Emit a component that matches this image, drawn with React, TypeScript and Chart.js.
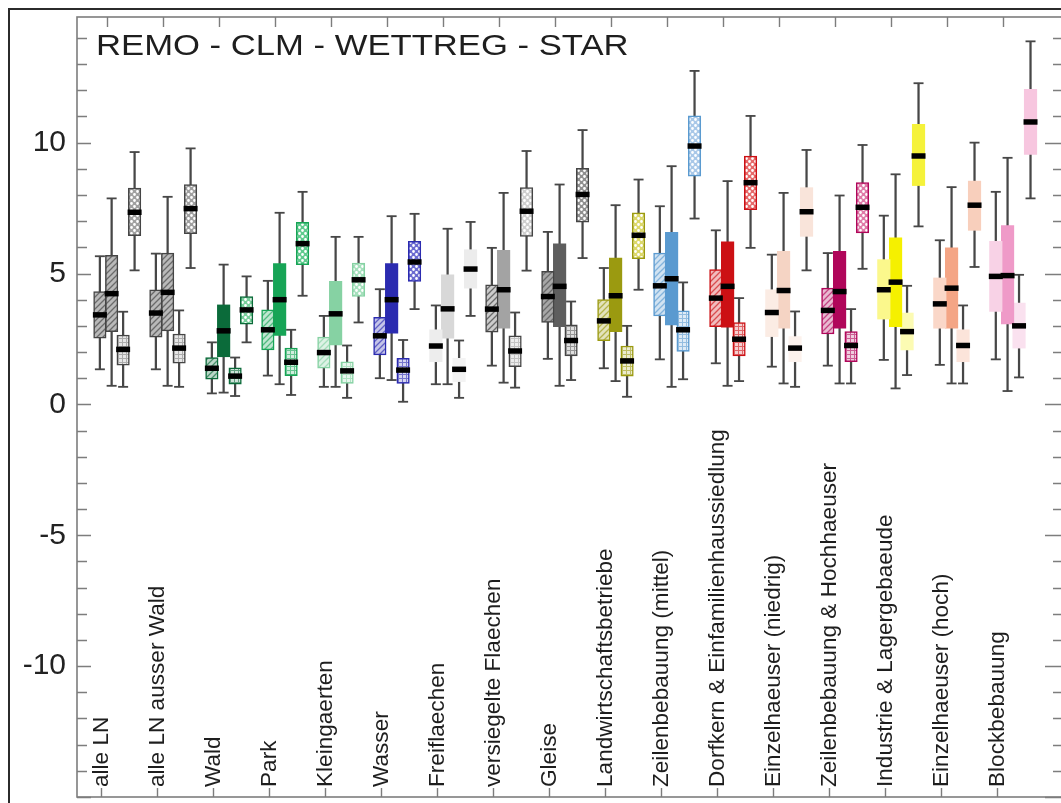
import React, { useEffect, useRef } from 'react';
import { Chart, registerables } from 'chart.js';

Chart.register(...registerables);

// ---------------- data ----------------
const title = 'REMO - CLM - WETTREG - STAR';

const categories = [
  'alle LN',
  'alle LN ausser Wald',
  'Wald',
  'Park',
  'Kleingaerten',
  'Wasser',
  'Freiflaechen',
  'versiegelte Flaechen',
  'Gleise',
  'Landwirtschaftsbetriebe',
  'Zeilenbebauung (mittel)',
  'Dorfkern & Einfamilienhaussiedlung',
  'Einzelhaeuser (niedrig)',
  'Zeilenbebauung & Hochhaeuser',
  'Industrie & Lagergebaeude',
  'Einzelhaeuser (hoch)',
  'Blockbebauung',
];

const models = ['REMO', 'CLM', 'WETTREG', 'STAR'];

const yLabelValues = [-10, -5, 0, 5, 10];

// [lower whisker, q1, median, q3, upper whisker]
const remoStats = [
  [1.34, 2.53, 3.42, 4.31, 5.66],
  [1.34, 2.57, 3.49, 4.38, 5.76],
  [0.42, 0.96, 1.38, 1.79, 2.37],
  [1.10, 2.08, 2.85, 3.61, 4.72],
  [0.67, 1.38, 1.98, 2.57, 3.38],
  [1.00, 1.89, 2.62, 3.33, 4.40],
  [0.77, 1.63, 2.23, 2.85, 3.78],
  [1.48, 2.76, 3.64, 4.57, 5.98],
  [1.74, 3.13, 4.12, 5.08, 6.59],
  [1.38, 2.43, 3.19, 4.00, 5.21],
  [1.72, 3.38, 4.53, 5.78, 7.57],
  [1.57, 2.97, 4.06, 5.15, 6.65],
  [1.44, 2.59, 3.51, 4.38, 5.72],
  [1.48, 2.69, 3.59, 4.44, 5.78],
  [1.70, 3.26, 4.38, 5.53, 7.21],
  [1.51, 2.91, 3.84, 4.83, 6.27],
  [1.72, 3.55, 4.89, 6.23, 8.12],
];

const clmStats = [
  [0.71, 2.78, 4.23, 5.69, 7.87],
  [0.71, 2.81, 4.28, 5.78, 7.93],
  [0.45, 1.82, 2.81, 3.80, 5.34],
  [0.77, 2.63, 4.00, 5.38, 7.32],
  [0.67, 2.27, 3.46, 4.70, 6.40],
  [0.93, 2.72, 4.00, 5.38, 7.19],
  [0.77, 2.53, 3.65, 4.95, 6.71],
  [0.83, 2.91, 4.38, 5.89, 8.08],
  [0.71, 2.97, 4.51, 6.13, 8.40],
  [0.89, 2.78, 4.15, 5.59, 7.61],
  [0.67, 3.04, 4.80, 6.57, 9.10],
  [0.71, 2.95, 4.51, 6.21, 8.53],
  [0.80, 2.91, 4.35, 5.85, 8.08],
  [0.80, 2.91, 4.31, 5.85, 7.98],
  [0.61, 2.97, 4.67, 6.36, 8.79],
  [0.80, 2.91, 4.44, 5.98, 8.30],
  [0.51, 3.07, 4.92, 6.83, 9.42],
];

const wettregStats = [
  [0.67, 1.50, 2.10, 2.65, 3.54],
  [0.67, 1.57, 2.15, 2.69, 3.59],
  [0.32, 0.77, 1.08, 1.40, 1.79],
  [0.36, 1.10, 1.61, 2.15, 2.85],
  [0.25, 0.80, 1.28, 1.63, 2.25],
  [0.10, 0.80, 1.31, 1.76, 2.46],
  [0.25, 0.87, 1.34, 1.76, 2.44],
  [0.64, 1.44, 2.04, 2.62, 3.51],
  [0.93, 1.85, 2.44, 3.04, 3.93],
  [0.29, 1.08, 1.66, 2.23, 3.00],
  [0.96, 2.02, 2.85, 3.57, 4.66],
  [0.89, 1.85, 2.49, 3.13, 4.06],
  [0.67, 1.63, 2.15, 2.59, 3.55],
  [0.80, 1.63, 2.25, 2.78, 3.64],
  [1.12, 2.08, 2.78, 3.49, 4.53],
  [0.80, 1.63, 2.25, 2.85, 3.78],
  [1.03, 2.15, 3.00, 3.87, 4.95],
];

const starStats = [
  [5.12, 6.45, 7.34, 8.26, 9.64],
  [5.21, 6.52, 7.48, 8.40, 9.78],
  [2.37, 3.06, 3.61, 4.12, 4.89],
  [4.15, 5.34, 6.14, 6.96, 8.12],
  [3.13, 4.12, 4.76, 5.40, 6.40],
  [3.64, 4.70, 5.44, 6.23, 7.28],
  [3.38, 4.44, 5.17, 5.91, 6.97],
  [5.11, 6.42, 7.38, 8.28, 9.68],
  [5.59, 6.96, 8.02, 9.02, 10.48],
  [4.38, 5.57, 6.46, 7.32, 8.59],
  [7.10, 8.72, 9.87, 11.02, 12.74],
  [5.98, 7.44, 8.47, 9.49, 11.02],
  [5.12, 6.42, 7.36, 8.28, 9.72],
  [5.18, 6.55, 7.53, 8.47, 9.91],
  [6.80, 8.36, 9.49, 10.70, 12.27],
  [5.25, 6.65, 7.61, 8.53, 10.00],
  [7.87, 9.55, 10.79, 12.04, 13.87],
];

const allStats = [remoStats, clmStats, wettregStats, starStats];

// ---------------- styles ----------------
const catBase = [
  '#808080', '#808080', '#0b6b3a', '#17a456', '#86d2a3', '#2b2bb0', '#d8d8d8',
  '#a3a3a3', '#5e5e5e', '#9b9a10', '#5a9ad0', '#cc1014', '#f5d4c4', '#b0065a',
  '#f5f000', '#f4a585', '#ef9ac8',
];
const catStar = [
  '#a0a0a0', '#a0a0a0', '#79cf9c', '#5fcb8e', '#a6e0bd', '#6b6bd0', '#ececec',
  '#cfcfcf', '#8f8f8f', '#dcd86a', '#a9c8e8', '#e66a6a', '#f9e4da', '#e07aa8',
  '#f5f23a', '#f8cfbc', '#f7c6df',
];
const softCats = [6, 12, 14, 15, 16];
const grayCats = [0, 1, 7, 8];
const hatchedClmCats = [0, 1];

const X_OFFSETS = [-0.02, 0.19, 0.395, 0.6];
const TOP_TICK_SHIFT = 0.1;
const FONT = '"Liberation Sans", Arial, Helvetica, sans-serif';

function mixWhite(hex: string, t: number) {
  const n = parseInt(hex.slice(1), 16);
  const r = (n >> 16) & 255, g = (n >> 8) & 255, b = n & 255;
  const f = (c: number) => Math.round(c + (255 - c) * t);
  return `rgb(${f(r)},${f(g)},${f(b)})`;
}

const decorPlugin = {
  id: 'decor',
  afterDatasetsDraw(chart: any) {
    const { ctx, chartArea: a, scales } = chart;
    const xs = scales.x, ys = scales.y;
    ctx.save();
    ctx.strokeStyle = '#7d7d7d';
    ctx.lineWidth = 1.6;
    ctx.strokeRect(a.left, a.top, a.right - a.left, a.bottom - a.top);
    ctx.lineWidth = 1.4;
    ctx.beginPath();
    for (let v = Math.ceil(ys.min); v <= Math.floor(ys.max); v++) {
      const y = Math.round(ys.getPixelForValue(v)) + 0.5;
      const major = v % 5 === 0;
      ctx.moveTo(a.left, y);
      ctx.lineTo(a.left + (major ? 14 : 10), y);
      ctx.moveTo(a.right, y);
      ctx.lineTo(a.right - (major ? 18 : 10), y);
    }
    categories.forEach((_, i) => {
      const xb = Math.round(xs.getPixelForValue(i)) + 0.5;
      ctx.moveTo(xb, a.bottom);
      ctx.lineTo(xb, a.bottom - 9);
      const xt = Math.round(xs.getPixelForValue(i + TOP_TICK_SHIFT)) + 0.5;
      ctx.moveTo(xt, a.top);
      ctx.lineTo(xt, a.top + 10);
    });
    ctx.stroke();

    ctx.fillStyle = '#1e1e1e';
    ctx.font = `22.6px ${FONT}`;
    ctx.textAlign = 'left';
    ctx.textBaseline = 'middle';
    categories.forEach((c, i) => {
      ctx.save();
      ctx.translate(xs.getPixelForValue(i), a.bottom - 10);
      ctx.rotate(-Math.PI / 2);
      ctx.fillText(c, 0, 1);
      ctx.restore();
    });

    ctx.save();
    ctx.font = `30px ${FONT}`;
    ctx.textBaseline = 'alphabetic';
    ctx.translate(a.left + 19, a.top + 38);
    ctx.scale(1.155, 1);
    ctx.fillText(title, 0, 0);
    ctx.restore();
    ctx.restore();
  },
};

export default function App() {
  const canvasRef = useRef<HTMLCanvasElement | null>(null);

  useEffect(() => {
    const canvas = canvasRef.current;
    if (!canvas) return;
    const ctx0 = canvas.getContext('2d') as CanvasRenderingContext2D;

    const pattern = (kind: string, bg: string, fg: string) => {
      const s = kind === 'grid' ? 4 : 6;
      const c = document.createElement('canvas');
      c.width = s;
      c.height = s;
      const g = c.getContext('2d') as CanvasRenderingContext2D;
      g.fillStyle = bg;
      g.fillRect(0, 0, s, s);
      g.strokeStyle = fg;
      g.fillStyle = fg;
      g.lineWidth = 1.3;
      if (kind === 'diag') {
        g.beginPath();
        g.moveTo(0, s); g.lineTo(s, 0);
        g.moveTo(-2, 2); g.lineTo(2, -2);
        g.moveTo(s - 2, s + 2); g.lineTo(s + 2, s - 2);
        g.stroke();
      } else if (kind === 'grid') {
        g.fillRect(0, 0, s, 1);
        g.fillRect(0, 0, 1, s);
      } else if (kind === 'dots') {
        g.beginPath();
        g.arc(1.5, 1.5, 1.4, 0, Math.PI * 2);
        g.arc(4.5, 4.5, 1.4, 0, Math.PI * 2);
        g.fill();
      }
      return ctx0.createPattern(c, 'repeat') as CanvasPattern;
    };

    const fills: any[][] = [[], [], [], []];
    const borders: string[][] = [[], [], [], []];
    const widths: number[][] = [[], [], [], []];
    categories.forEach((_, i) => {
      const base = catBase[i];
      const star = catStar[i];
      if (softCats.includes(i)) {
        fills[0].push(mixWhite(base, 0.55));
        fills[1].push(base);
        fills[2].push(mixWhite(base, 0.7));
        fills[3].push(star);
        for (let m = 0; m < 4; m++) {
          borders[m].push('rgba(0,0,0,0)');
          widths[m].push(0);
        }
      } else {
        const gray = grayCats.includes(i);
        const edge = gray ? '#454545' : base;
        const hatched = hatchedClmCats.includes(i);
        fills[0].push(pattern('diag', mixWhite(base, gray ? 0.45 : 0.72), gray ? '#6a6a6a' : mixWhite(base, 0.25)));
        fills[1].push(hatched ? pattern('diag', mixWhite(base, 0.45), '#6a6a6a') : base);
        fills[2].push(pattern('grid', mixWhite(base, 0.8), mixWhite(base, 0.35)));
        fills[3].push(pattern('dots', star, '#ffffff'));
        borders[0].push(edge); widths[0].push(1.5);
        borders[1].push(hatched ? edge : base); widths[1].push(hatched ? 1.5 : 0);
        borders[2].push(edge); widths[2].push(1.5);
        borders[3].push(edge); widths[3].push(1.5);
      }
    });

    const datasets: any[] = [];
    models.forEach((m, mi) => {
      const stats = allStats[mi];
      const off = X_OFFSETS[mi];
      datasets.push({
        type: 'bar',
        label: m + ' whisker',
        data: stats.map((s, i) => ({ x: i + off, y: [s[0], s[4]] })),
        backgroundColor: '#474747',
        borderWidth: 0,
        barThickness: 1.6,
        grouped: false,
        order: 4,
      });
      datasets.push({
        type: 'scatter',
        label: m + ' caps',
        data: stats.flatMap((s, i) => [{ x: i + off, y: s[0] }, { x: i + off, y: s[4] }]),
        pointStyle: 'line',
        pointRadius: 5,
        pointBorderWidth: 1.8,
        pointBorderColor: '#474747',
        order: 3,
      });
      datasets.push({
        type: 'bar',
        label: m,
        data: stats.map((s, i) => ({ x: i + off, y: [s[1], s[3]] })),
        backgroundColor: fills[mi],
        borderColor: borders[mi],
        borderWidth: widths[mi],
        borderSkipped: false,
        barThickness: 12.5,
        grouped: false,
        order: 2,
      });
      datasets.push({
        type: 'scatter',
        label: m + ' median',
        data: stats.map((s, i) => ({ x: i + off, y: s[2] })),
        pointStyle: 'line',
        pointRadius: 7,
        pointBorderWidth: 5.5,
        pointBorderColor: '#000000',
        order: 1,
      });
    });

    const chart = new Chart(canvas, {
      type: 'bar',
      data: { datasets },
      options: {
        responsive: false,
        animation: false,
        events: [],
        layout: { autoPadding: false, padding: { left: 0, top: 7, right: 27, bottom: 13 } },
        plugins: { legend: { display: false }, tooltip: { enabled: false } },
        scales: {
          x: {
            type: 'linear',
            display: false,
            offset: false,
            min: -0.4286,
            max: 17.18,
          },
          y: {
            type: 'linear',
            position: 'left',
            min: -15,
            max: 14.8,
            grid: { display: false, drawTicks: false, tickLength: 0 },
            border: { display: false },
            afterFit: (s: any) => {
              s.width = 67;
              s.paddingTop = 0;
              s.paddingBottom = 0;
            },
            ticks: {
              stepSize: 1,
              autoSkip: false,
              includeBounds: false,
              padding: 11,
              color: '#222',
              font: { size: 30, family: FONT },
              callback: (v: any) => (yLabelValues.includes(Number(v)) ? String(v) : ''),
            },
          },
        },
      } as any,
      plugins: [decorPlugin],
    });
    return () => chart.destroy();
  }, []);

  return (
    <div
      style={{
        position: 'fixed',
        left: 8,
        top: 8,
        width: 1053,
        height: 795,
        overflow: 'hidden',
        borderLeft: '2px solid #2b2b2b',
        borderTop: '2px solid #2b2b2b',
        boxSizing: 'border-box',
        background: '#fff',
      }}
    >
      <canvas ref={canvasRef} width={1080} height={800} style={{ display: 'block' }} />
    </div>
  );
}
